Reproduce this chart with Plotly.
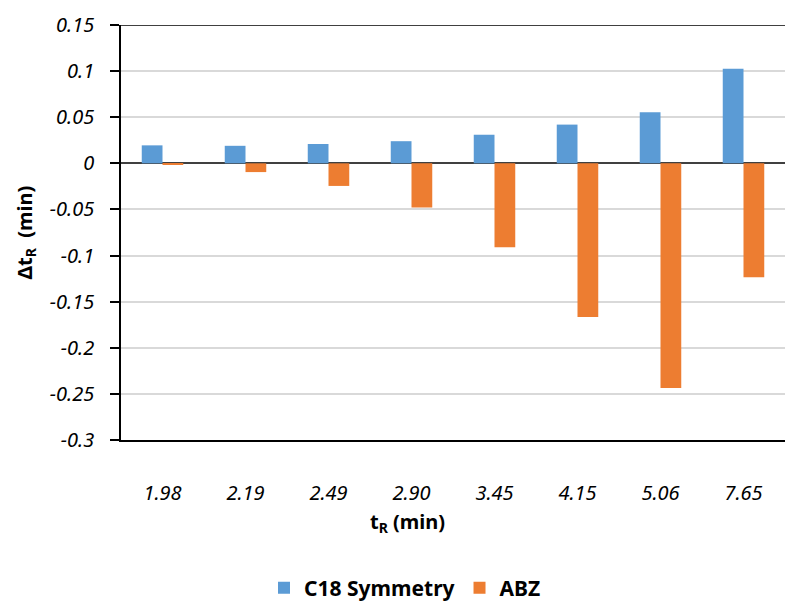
import plotly.graph_objects as go

categories = ["1.98", "2.19", "2.49", "2.90", "3.45", "4.15", "5.06", "7.65"]
c18_symmetry = [0.0195, 0.019, 0.021, 0.024, 0.031, 0.042, 0.0555, 0.1025]
abz = [-0.001, -0.0095, -0.0245, -0.048, -0.091, -0.1665, -0.2435, -0.1235]
y_tickvals = [0.15, 0.1, 0.05, 0, -0.05, -0.1, -0.15, -0.2, -0.25, -0.3]
y_ticktext = ["0.15", "0.1", "0.05", "0", "-0.05", "-0.1", "-0.15", "-0.2", "-0.25", "-0.3"]

BLUE = "#5B9BD5"
ORANGE = "#ED7D31"

fig = go.Figure()
fig.add_trace(go.Bar(name="C18 Symmetry", x=categories, y=c18_symmetry,
                     marker=dict(color=BLUE, line=dict(width=0))))
fig.add_trace(go.Bar(name="ABZ", x=categories, y=abz,
                     marker=dict(color=ORANGE, line=dict(width=0))))

tick_font = dict(family="Noto Sans", size=20, color="black", style="italic")
title_font = dict(family="Noto Sans", size=20, color="black", weight="bold")

fig.update_layout(
    width=795, height=603,
    margin=dict(l=121, r=10, t=25, b=163, autoexpand=False),
    paper_bgcolor="white", plot_bgcolor="white",
    barmode="group", bargap=0.5, bargroupgap=0,
    showlegend=True,
    legend=dict(orientation="h", x=(405 - 121) / 664, xanchor="center", xref="paper",
                y=-(588 - 440) / 415, yanchor="middle",
                font=dict(family="Noto Sans", size=21, color="black", weight="bold"),
                itemwidth=30, itemsizing="constant", traceorder="normal"),
    xaxis=dict(type="category", showline=True, linecolor="black", linewidth=1.5,
               showgrid=False, ticks="", tickfont=tick_font,
               ticklabelstandoff=34),
    yaxis=dict(range=[-0.3, 0.15], tickvals=y_tickvals, ticktext=y_ticktext,
               showline=True, linecolor="black", linewidth=1.5,
               ticks="outside", ticklen=9, tickcolor="black", tickwidth=1.5,
               showgrid=True, gridcolor="#D9D9D9", gridwidth=1.5,
               zeroline=True, zerolinecolor="#404040", zerolinewidth=1.5,
               tickfont=tick_font, ticklabelstandoff=12,
               title=dict(text="Δt<sub>R</sub>  (min)", font=title_font, standoff=12)),
    annotations=[dict(text="t<sub>R</sub> (min)", xref="paper", yref="paper",
                      x=(407 - 121) / 664, y=-(522 - 440) / 415, xanchor="center", yanchor="middle",
                      showarrow=False, font=title_font)],
    shapes=[dict(type="line", xref="paper", yref="y", x0=-9 / 664, x1=1,
                 y0=0.15, y1=0.15, line=dict(color="black", width=1.5))],
)

fig.write_html("out.html")
